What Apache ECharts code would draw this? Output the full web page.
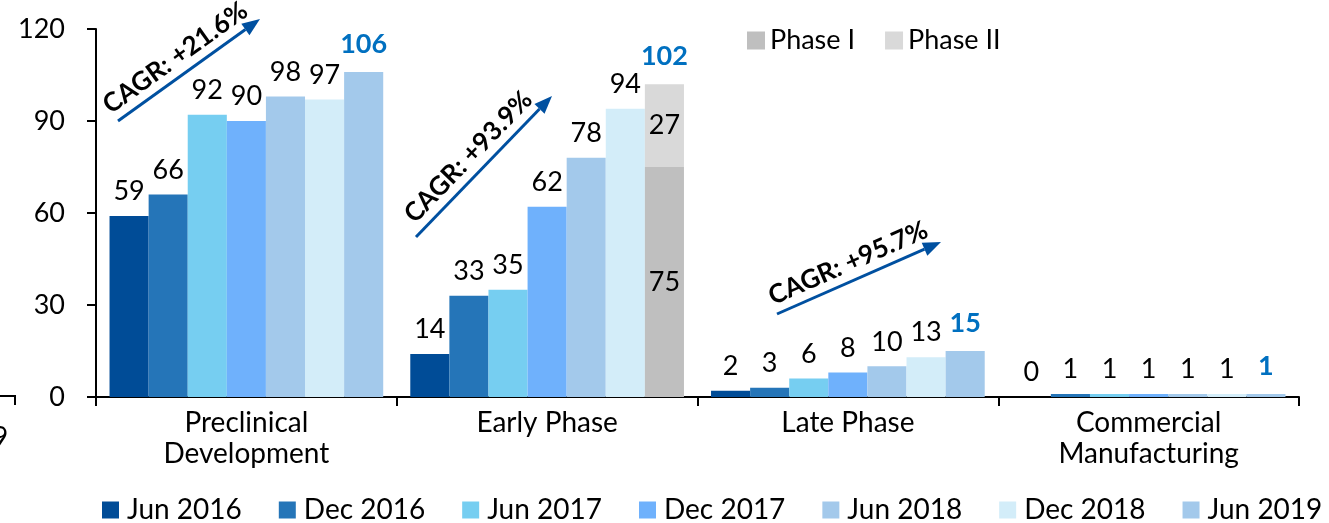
<!DOCTYPE html>
<html>
<head>
<meta charset="utf-8">
<script src="https://cdn.jsdelivr.net/npm/echarts@6/dist/echarts.min.js"></script>
<style>
  html, body { margin: 0; padding: 0; background: #fff; }
  #chart { width: 1329px; height: 523px; }
</style>
</head>
<body>
<div id="chart"></div>
<script>
// data
const categories = ['Preclinical\nDevelopment', 'Early Phase', 'Late Phase', 'Commercial\nManufacturing']
const periodNames = ['Jun 2016', 'Dec 2016', 'Jun 2017', 'Dec 2017', 'Jun 2018', 'Dec 2018', 'Jun 2019']
const jun2016 = [59, 14, 2, 0]
const dec2016 = [66, 33, 3, 1]
const jun2017 = [92, 35, 6, 1]
const dec2017 = [90, 62, 8, 1]
const jun2018 = [98, 78, 10, 1]
const dec2018 = [97, 94, 13, 1]
const jun2019 = [106, null, 15, 1]
const phaseI = [null, 75, null, null]
const phaseII = [null, 27, null, null]
const cagrTexts = ['CAGR: +21.6%', 'CAGR: +93.9%', 'CAGR: +95.7%']

const periodColors = ['#004C97', '#2575B8', '#76CEF1', '#6FB1FC', '#A3C9EB', '#D3EDF9', '#A3C9EB']
const phaseColors = ['#BFBFBF', '#D9D9D9']
const FONT = 'Lato'

const chart = echarts.init(document.getElementById('chart'))

const valueLabel = {
  show: true,
  position: 'top',
  distance: 11,
  color: '#000',
  fontSize: 27,
  fontFamily: FONT
}

const periodData = [jun2016, dec2016, jun2017, dec2017, jun2018, dec2018]
const series = periodData.map((d, i) => ({
  name: periodNames[i],
  type: 'bar',
  data: d,
  itemStyle: { color: periodColors[i] },
  label: valueLabel
}))

series.push({
  name: 'Jun 2019',
  type: 'bar',
  stack: 'last',
  data: jun2019,
  itemStyle: { color: periodColors[6] }
})
series.push({
  name: 'Phase I',
  type: 'bar',
  stack: 'last',
  data: phaseI,
  itemStyle: { color: phaseColors[0] },
  label: { show: true, position: 'inside', color: '#000', fontSize: 27, fontFamily: FONT }
})
series.push({
  name: 'Phase II',
  type: 'bar',
  stack: 'last',
  data: phaseII,
  itemStyle: { color: phaseColors[1] },
  label: { show: true, position: 'inside', color: '#000', fontSize: 27, fontFamily: FONT }
})
// 0-height helper on top of the last stack, carries the bold total label
series.push({
  name: 'total',
  type: 'bar',
  stack: 'last',
  data: categories.map(() => 0),
  itemStyle: { color: 'transparent' },
  label: {
    show: true,
    position: 'top',
    distance: 14,
    color: '#0070C0',
    fontWeight: 'bold',
    fontSize: 27,
    fontFamily: FONT,
    formatter: p => (jun2019[p.dataIndex] || 0) + (phaseI[p.dataIndex] || 0) + (phaseII[p.dataIndex] || 0)
  }
})

/**
 * arrow with rotated caption
 */
function cagrArrow(x1, y1, x2, y2, text) {
  const ang = Math.atan2(y2 - y1, x2 - x1)
  const c = Math.cos(ang), s = Math.sin(ang)
  const head = 18, half = 7
  const bx = x2 - head * c, by = y2 - head * s
  const mx = (x1 + x2) / 2, my = (y1 + y2) / 2
  const off = 18
  return [
    { type: 'line', shape: { x1: x1, y1: y1, x2: bx, y2: by }, style: { stroke: '#0050A0', lineWidth: 3 } },
    { type: 'polygon', shape: { points: [[x2, y2], [bx - s * half, by + c * half], [bx + s * half, by - c * half]] }, style: { fill: '#0050A0' } },
    {
      type: 'text',
      x: mx + s * off - c * 4,
      y: my - c * off - s * 4,
      rotation: -ang,
      style: { text: text, font: 'bold 26px ' + FONT, fill: '#000', align: 'center', verticalAlign: 'middle' }
    }
  ]
}

const graphics = [].concat(
  cagrArrow(118, 121, 260, 19, cagrTexts[0]),
  cagrArrow(416, 237, 552, 96, cagrTexts[1]),
  cagrArrow(777, 314, 941, 242, cagrTexts[2]),
  [
    { type: 'polyline', shape: { points: [[0, 396], [15, 396], [15, 405]] }, style: { stroke: '#000', lineWidth: 2, fill: null } },
    { type: 'text', x: -8, y: 438, style: { text: '9', font: '28px ' + FONT, fill: '#000', verticalAlign: 'middle' } }
  ]
)

const option = {
  animation: false,
  textStyle: { fontFamily: FONT },
  grid: { left: 96, right: 30, top: 29, bottom: 126 },
  legend: [
    {
      data: periodNames,
      left: 97,
      top: 491,
      icon: 'rect',
      itemWidth: 17,
      itemHeight: 17,
      itemGap: 37,
      textStyle: { color: '#000', fontSize: 28, fontFamily: FONT, padding: [0, 0, 0, 3] }
    },
    {
      data: ['Phase I', 'Phase II'],
      left: 742,
      top: 22,
      icon: 'rect',
      itemWidth: 18,
      itemHeight: 18,
      itemGap: 30,
      textStyle: { color: '#000', fontSize: 27, fontFamily: FONT }
    }
  ],
  xAxis: {
    type: 'category',
    data: categories,
    axisLine: { lineStyle: { color: '#000', width: 2 } },
    axisTick: { show: true, length: 9, lineStyle: { color: '#000', width: 2 } },
    axisLabel: { color: '#000', fontSize: 28, fontFamily: FONT, margin: 10, lineHeight: 31 }
  },
  yAxis: {
    type: 'value',
    min: 0,
    max: 120,
    interval: 30,
    axisLine: { show: true, lineStyle: { color: '#000', width: 2 } },
    axisTick: { show: true, length: 9, lineStyle: { color: '#000', width: 2 } },
    axisLabel: { color: '#000', fontSize: 27, fontFamily: FONT, margin: 31 },
    splitLine: { show: false }
  },
  series: series.map(s => Object.assign({ barGap: '0%', barCategoryGap: '9%' }, s)),
  graphic: graphics
}

chart.setOption(option)
</script>
</body>
</html>
